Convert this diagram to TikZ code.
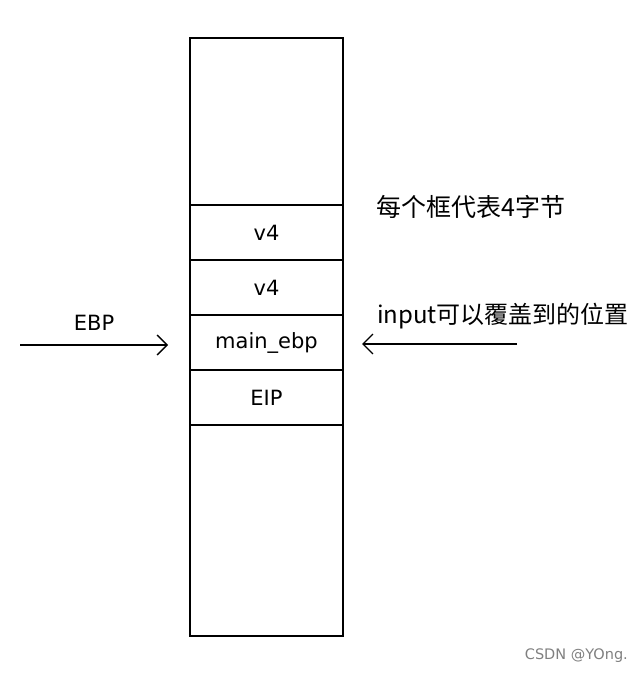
\documentclass[tikz,border=0pt]{standalone}
\usepackage{fontspec}
\setmainfont{Noto Sans CJK SC}
\newfontfamily\latinlbl{DejaVu Sans}
\usetikzlibrary{arrows.meta}
\tikzset{
  cell/.style={draw=black, line width=1.3pt, minimum width=153pt, minimum height=55pt, inner sep=0pt, font=\latinlbl\fontsize{21}{24}\selectfont},
  outer/.style={draw=black, line width=1.3pt, minimum width=153pt, minimum height=598pt, inner sep=0pt},
  arr/.style={line width=1.3pt, -{Straight Barb[length=10pt,width=20pt,line width=1.3pt]}},
  lbl/.style={inner sep=0pt, anchor=west},
  wmark/.style={inner sep=0pt, text=gray, font=\latinlbl\fontsize{14.5}{16}\selectfont, anchor=east}
}
\begin{document}
\begin{tikzpicture}[x=1pt,y=-1pt]
\useasboundingbox[fill=white] (0,0) rectangle (643,676);
\node[outer] (stack) at (266.5,337) {};
\node[cell] (c1) at (266.5,232.5) {v4};
\node[cell] (c2) at (266.5,287.5) {v4};
\node[cell] (c3) at (266.5,342.5) {main\_ebp};
\node[cell] (c4) at (266.5,397.5) {EIP};
\node[font=\latinlbl\fontsize{21}{24}\selectfont, inner sep=0pt] (ebp) at (94,323) {EBP};
\coordinate (ls) at (20,345);
\coordinate (le) at (168,345);
\draw[arr] (ls) -- (le);
\node[lbl, font=\fontsize{25}{28}\selectfont] (note) at (376,207) {每个框代表4字节};
\node[lbl, font=\fontsize{24}{27}\selectfont] (inp) at (377,316) {input可以覆盖到的位置};
\coordinate (rs) at (517,344);
\coordinate (re) at (362,344);
\draw[arr] (rs) -- (re);
\node[wmark] (wm) at (628,656) {CSDN @YOng.};
\end{tikzpicture}
\end{document}
